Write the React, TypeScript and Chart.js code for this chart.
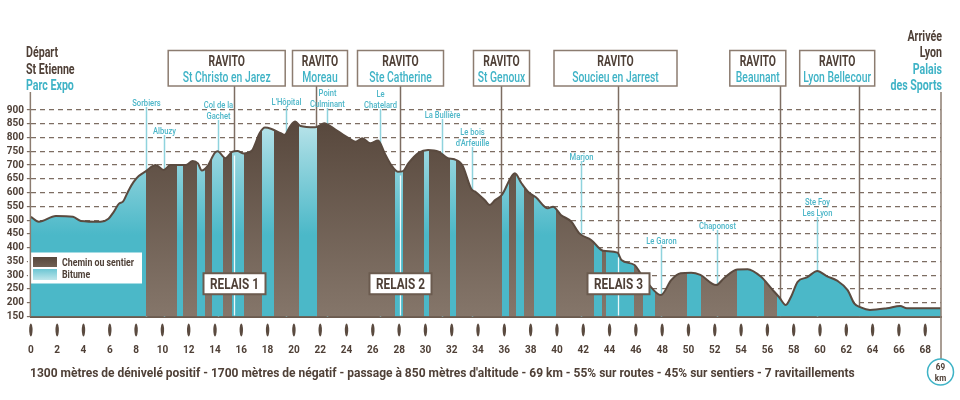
import React, { useEffect, useRef } from "react";
import { Chart, registerables } from "chart.js";
Chart.register(...registerables);

// ---------- DATA ----------
const distanceKm = [0,0.6,1.9,3.2,3.8,5.3,5.9,6.3,6.7,7.0,7.4,7.8,8.2,8.7,9.5,10.1,10.6,11.8,12.3,12.7,13.0,13.4,14.0,14.2,14.8,15.3,15.7,16.2,16.8,17.4,17.8,18.3,19.0,19.3,19.7,20.1,20.5,21.6,21.9,22.3,22.5,23.1,24.2,24.7,25.2,25.8,26.4,26.9,27.4,27.9,28.3,28.7,29.5,30.2,31.0,31.7,32.2,32.8,33.5,33.8,34.5,34.9,35.3,35.8,36.8,37.3,37.8,38.4,39.3,39.7,40.3,41.1,41.7,42.6,43.5,44.6,44.9,45.9,46.5,46.9,47.9,48.7,49.4,50.2,50.9,52.1,52.7,53.7,54.5,55.5,56.3,56.9,57.4,57.8,58.3,59.0,59.8,60.5,61.3,62.1,62.6,63.1,63.8,65.1,66.1,66.6,69.2];
const elevationM = [512,494,515,512,497,494,505,530,560,567,605,638,660,676,700,682,700,700,715,706,680,694,745,750,725,748,751,742,752,816,836,831,816,810,840,858,842,837,842,852,849,831,797,785,797,779,789,743,700,676,678,706,745,755,749,725,721,700,612,603,573,555,573,591,670,634,603,583,543,549,519,494,452,428,389,382,355,337,295,271,228,283,307,309,301,264,289,321,322,295,252,220,192,222,276,292,315,297,280,246,198,183,174,180,188,180,180];

const surfaceStartKm = [0,8.74,11.09,11.6,12.66,13.25,13.75,14.63,15.31,16.2,17.59,18.48,20.37,21.76,27.65,28.33,29.92,30.3,31.9,32.3,35.84,36.34,36.92,37.48,38.23,39.9,42.78,43.44,43.75,45.89,46.53,47.48,49.92,50.97,53.68,55.75,56.76];
const surfaceType = ["b","s","b","s","b","s","b","s","b","s","b","s","b","s","b","s","b","s","b","s","b","s","b","s","b","s","b","s","b","s","b","s","b","s","b","s","b"];
const surfaceLabels = ["Chemin ou sentier", "Bitume"];

const ravitoTitle = "RAVITO";
const ravitoNames = ["St Christo en Jarez","Moreau","Ste Catherine","St Genoux","Soucieu en Jarrest","Beaunant","Lyon Bellecour"];
const ravitoKm = [15.47,21.68,28.05,35.78,44.63,56.94,63.0];

const relaisLabels = ["RELAIS 1","RELAIS 2","RELAIS 3"];
const relaisRavitoIndex = [0,2,4];

const placeNames = [["Sorbiers"],["Albuzy"],["Col de la","Gachet"],["L'Hôpital"],["Point","Culminant"],["Le","Chatelard"],["La Bullière"],["Le bois","d'Arfeuille"],["Marjon"],["Le Garon"],["Chaponost"],["Ste Foy","Les Lyon"]];
const placeKm = [8.72,10.16,14.23,19.41,22.52,26.51,31.24,33.56,41.85,47.92,52.14,59.8];

const startLines = ["Départ","St Etienne","Parc Expo"];
const finishLines = ["Arrivée","Lyon","Palais","des Sports"];
const totalKmLabel = ["69","km"];
const summaryText = "1300 mètres de dénivelé positif - 1700 mètres de négatif - passage à 850 mètres d'altitude - 69 km - 55% sur routes - 45% sur sentiers - 7 ravitaillements";

const yMin = 150, yMax = 900, yStep = 50;
const xMin = 0, xMax = 69.2, xStep = 2;

// ---------- LAYOUT / STYLE ----------
const BOX_LAYOUT = [{dx:-7.8,w:117},{dx:3.5,w:55},{dx:0,w:86},{dx:0,w:56},{dx:-3,w:123},{dx:-22.7,w:56},{dx:-22.3,w:75}];
const PLACE_LABEL_Y = [103,131,116,102,104,105,115,143,157,241,226,213];
const DARK = "#4f4037";
const CYAN = "#3fb3c6";
const BOXLINE = "#8c7c70";
const FONT = "Roboto, 'DejaVu Sans', sans-serif";

function elevAt(km: number) {
  for (let i = 1; i < distanceKm.length; i++) {
    if (km <= distanceKm[i]) {
      const t = (km - distanceKm[i-1]) / (distanceKm[i] - distanceKm[i-1]);
      return elevationM[i-1] + t * (elevationM[i] - elevationM[i-1]);
    }
  }
  return elevationM[elevationM.length-1];
}

function txt(ctx: CanvasRenderingContext2D, s: string, x: number, y: number, font: string, color: string, align: CanvasTextAlign = "left", squeeze = 1) {
  ctx.font = font;
  ctx.fillStyle = color;
  ctx.textAlign = align;
  ctx.textBaseline = "alphabetic";
  const w = ctx.measureText(s).width;
  ctx.fillText(s, x, y, w * squeeze);
}

let patCache: { key: string; pat: CanvasPattern | null } | null = null;
function bandPattern(chart: any) {
  const a = chart.chartArea;
  const xs = chart.scales.x;
  if (!a || !xs) return "#6b5b4f";
  const key = `${chart.width}x${chart.height}:${a.left},${a.top},${a.right},${a.bottom}`;
  if (patCache && patCache.key === key) return patCache.pat;
  const c = document.createElement("canvas");
  c.width = chart.width; c.height = chart.height;
  const g = c.getContext("2d")!;
  const brown = g.createLinearGradient(0, a.top, 0, a.bottom);
  brown.addColorStop(0, "#55453a");
  brown.addColorStop(1, "#85766a");
  const cyan = g.createLinearGradient(0, a.top, 0, a.top + 125);
  cyan.addColorStop(0, "#c6e9ee");
  cyan.addColorStop(0.35, "#98d6df");
  cyan.addColorStop(1, "#4bb8c8");
  for (let i = 0; i < surfaceStartKm.length; i++) {
    const x0 = Math.round(xs.getPixelForValue(surfaceStartKm[i]));
    const x1 = i + 1 < surfaceStartKm.length ? Math.round(xs.getPixelForValue(surfaceStartKm[i+1])) : Math.ceil(a.right) + 2;
    g.fillStyle = surfaceType[i] === "b" ? cyan : brown;
    g.fillRect(x0, 0, x1 - x0, c.height);
  }
  const pat = chart.ctx.createPattern(c, "no-repeat");
  patCache = { key, pat };
  return pat;
}

const decor = {
  id: "decor",
  beforeDatasetsDraw(chart: any) {
    const { ctx, chartArea: a, scales: { x } } = chart;
    ctx.save();
    ctx.strokeStyle = "#7d6d62";
    ctx.lineWidth = 1.5;
    ravitoKm.forEach((km) => {
      const px = Math.round(x.getPixelForValue(km)) + 0.5;
      ctx.beginPath(); ctx.moveTo(px, 86); ctx.lineTo(px, a.bottom); ctx.stroke();
    });
    ctx.strokeStyle = "#8fd3dd";
    ctx.lineWidth = 1.5;
    placeKm.forEach((km, i) => {
      const px = Math.round(x.getPixelForValue(km)) + 0.5;
      ctx.beginPath(); ctx.moveTo(px, PLACE_LABEL_Y[i] + 4); ctx.lineTo(px, a.bottom); ctx.stroke();
    });
    ctx.restore();
  },
  afterDatasetsDraw(chart: any) {
    const { ctx, chartArea: a, scales: { x, y } } = chart;
    ctx.save();
    relaisRavitoIndex.forEach((ri, i) => {
      const km = ravitoKm[ri];
      const px = Math.round(x.getPixelForValue(km)) + 0.5;
      ctx.strokeStyle = "rgba(255,255,255,0.9)";
      ctx.lineWidth = 1.3;
      ctx.beginPath(); ctx.moveTo(px, y.getPixelForValue(elevAt(km)) + 4); ctx.lineTo(px, a.bottom - 1); ctx.stroke();
      const cy = y.getPixelForValue(269);
      const w = 62, h = 21;
      ctx.fillStyle = "#fff";
      ctx.strokeStyle = "#6b5b4f";
      ctx.lineWidth = 2;
      ctx.fillRect(px - w/2, cy - h/2, w, h);
      ctx.strokeRect(px - w/2, cy - h/2, w, h);
      txt(ctx, relaisLabels[i], px, cy + 5, `bold 14px ${FONT}`, DARK, "center", 0.84);
    });
    const lx = 28, ly = 252.5;
    ctx.fillStyle = "#fff";
    ctx.fillRect(lx, ly, 114, 31);
    const sb = ctx.createLinearGradient(0, ly + 4, 0, ly + 14);
    sb.addColorStop(0, "#56463b"); sb.addColorStop(1, "#6e5e52");
    ctx.fillStyle = sb; ctx.fillRect(33, 257, 24, 10);
    const sc = ctx.createLinearGradient(0, 269, 0, 280);
    sc.addColorStop(0, "#6cc6d3"); sc.addColorStop(1, "#bfe6eb");
    ctx.fillStyle = sc; ctx.fillRect(33, 269, 24, 11);
    txt(ctx, surfaceLabels[0], 62, 265.5, `bold 10px ${FONT}`, DARK, "left", 0.88);
    txt(ctx, surfaceLabels[1], 62, 278, `bold 10px ${FONT}`, DARK, "left", 0.88);
    ctx.restore();
  },
  afterDraw(chart: any) {
    const { ctx, chartArea: a, scales: { x } } = chart;
    ctx.save();
    ctx.strokeStyle = "#8c7c70";
    ctx.lineWidth = 1.5;
    ctx.beginPath(); ctx.moveTo(a.left - 0.5, 92); ctx.lineTo(a.left - 0.5, a.bottom); ctx.stroke();
    ctx.beginPath(); ctx.moveTo(a.right, 92); ctx.lineTo(a.right, 359); ctx.stroke();
    const sy = [57, 73.5, 89.5];
    startLines.forEach((s, i) => txt(ctx, s, 26, sy[i], `bold 14px ${FONT}`, i === 2 ? CYAN : DARK, "left", 0.76));
    const fy = [40.5, 57, 74, 90];
    finishLines.forEach((s, i) => txt(ctx, s, 942, fy[i], `bold 14px ${FONT}`, i >= 2 ? CYAN : DARK, "right", 0.76));
    ravitoKm.forEach((km, i) => {
      const px = Math.round(x.getPixelForValue(km)) + 0.5;
      const L = BOX_LAYOUT[i];
      const cx = px + L.dx;
      ctx.fillStyle = "#fff";
      ctx.strokeStyle = BOXLINE;
      ctx.lineWidth = 1.5;
      ctx.fillRect(cx - L.w/2, 50.5, L.w, 35.5);
      ctx.strokeRect(cx - L.w/2, 50.5, L.w, 35.5);
      txt(ctx, ravitoTitle, cx, 66, `bold 14px ${FONT}`, DARK, "center", 0.74);
      txt(ctx, ravitoNames[i], cx, 82, `500 14px ${FONT}`, CYAN, "center", 0.74);
    });
    placeNames.forEach((lines, i) => {
      const px = Math.round(x.getPixelForValue(placeKm[i])) + 0.5;
      const last = PLACE_LABEL_Y[i];
      lines.forEach((s, j) => {
        const yy = last - (lines.length - 1 - j) * 11.5 + 3;
        txt(ctx, s, px, yy, `500 9.5px ${FONT}`, "#4cb6c8", "center", 0.8);
      });
    });
    ctx.fillStyle = "#5a4a3f";
    x.ticks.forEach((t: any) => {
      const px = x.getPixelForValue(t.value);
      ctx.beginPath(); ctx.ellipse(px, 330, 1.7, 6.5, 0, 0, Math.PI * 2); ctx.fill();
    });
    ctx.strokeStyle = CYAN;
    ctx.lineWidth = 1.5;
    ctx.fillStyle = "#fff";
    ctx.beginPath(); ctx.arc(940.5, 372, 13, 0, Math.PI * 2); ctx.fill(); ctx.stroke();
    txt(ctx, totalKmLabel[0], 940.5, 370, `bold 9px ${FONT}`, DARK, "center", 0.9);
    txt(ctx, totalKmLabel[1], 940.5, 380.5, `bold 9px ${FONT}`, DARK, "center", 0.9);
    ctx.font = `bold 12px ${FONT}`;
    ctx.fillStyle = DARK;
    ctx.textAlign = "left";
    ctx.textBaseline = "alphabetic";
    ctx.fillText(summaryText, 30, 376.5, 825);
    ctx.restore();
  },
};

export default function App() {
  const ref = useRef<HTMLCanvasElement>(null);
  useEffect(() => {
    if (!ref.current) return;
    const chart = new Chart(ref.current, {
      type: "line",
      data: {
        datasets: [
          {
            label: "Altitude",
            data: distanceKm.map((d, i) => ({ x: d, y: elevationM[i] })),
            borderColor: "#5a4a3f",
            borderWidth: 2,
            pointRadius: 0,
            cubicInterpolationMode: "monotone",
            fill: "start",
            backgroundColor: (c: any) => bandPattern(c.chart),
          } as any,
        ],
      },
      options: {
        responsive: false,
        animation: false,
        events: [],
        layout: { padding: { top: 110, right: 19, bottom: 0, left: 0 } },
        plugins: { legend: { display: false }, tooltip: { enabled: false } },
        scales: {
          x: {
            type: "linear",
            min: xMin,
            max: xMax,
            afterFit: (s: any) => { s.height = 83.5; },
            grid: { display: false, drawTicks: false },
            border: { display: true, color: "#6b5b4f", width: 2 },
            ticks: {
              stepSize: xStep,
              includeBounds: false,
              autoSkip: false,
              maxRotation: 0,
              padding: 28,
              color: DARK,
              font: { family: FONT, size: 10, weight: "bold" },
            },
          },
          y: {
            min: yMin,
            max: yMax,
            afterFit: (s: any) => { s.width = 28; },
            grid: {
              color: (c: any) => (c.tick && c.tick.value === yMin ? "rgba(0,0,0,0)" : "#7d6d62"),
              lineWidth: 1.2,
              tickLength: 4,
              tickColor: "#7d6d62",
            },
            border: { display: false, dash: [5, 4] },
            ticks: {
              stepSize: yStep,
              autoSkip: false,
              padding: 3,
              color: DARK,
              font: { family: FONT, size: 10, weight: "bold" },
            },
          },
        },
      },
      plugins: [decor],
    });
    return () => chart.destroy();
  }, []);
  return (
    <div style={{ position: "fixed", left: 0, top: 0, width: 960, height: 400, background: "#fff" }}>
      <canvas ref={ref} width={960} height={400} style={{ display: "block" }} />
    </div>
  );
}
